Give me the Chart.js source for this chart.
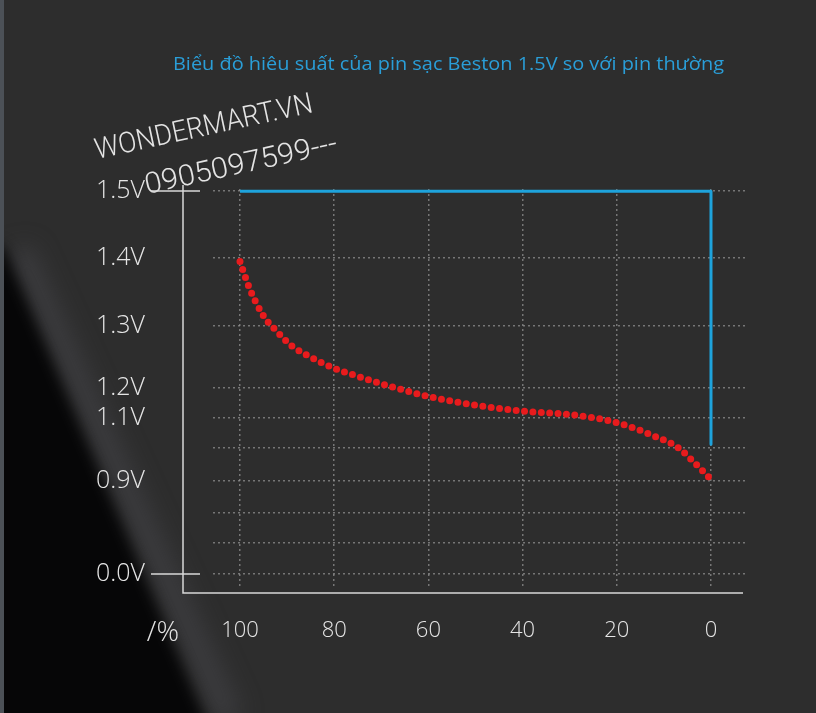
<!DOCTYPE html>
<html>
<head>
<meta charset="utf-8">
<script src="https://cdn.jsdelivr.net/npm/chart.js@4.4.1/dist/chart.umd.min.js"></script>
<style>
    html, body { margin: 0; padding: 0; background: #2d2d2d; }
    #chart { display: block; }
</style>
</head>
<body>
<canvas id="chart" width="816" height="713"></canvas>
<script>
// Normal battery discharge curve (% remaining -> volts)
const capacityPct = [100, 98, 95, 92, 89, 85, 80, 75, 70, 60, 50, 40, 30, 20, 12, 7, 4, 0];
const normalVolts = [1.395, 1.356, 1.315, 1.29, 1.268, 1.25, 1.232, 1.219, 1.207, 1.172, 1.143, 1.123, 1.112, 1.085, 1.04, 1.002, 0.963, 0.905];

// Beston 1.5V rechargeable: flat then drop at the end
const bestonPct = [100, 0, 0];
const bestonVolts = [1.5, 1.5, 1.013];

// Axis ticks
const xTicks = [100, 80, 60, 40, 20, 0];
const voltStops = [0, 0.3, 0.6, 0.9, 1.0, 1.1, 1.2, 1.3, 1.4, 1.5];
const yTickLabels = ['0.0V', '', '', '0.9V', '', '1.1V', '1.2V', '1.3V', '1.4V', '1.5V'];

const titleText = 'Biểu đồ hiêu suất của pin sạc Beston 1.5V so với pin thường';
const watermark1 = 'WONDERMART.VN';
const watermark2 = '0905097599---';

// The printed voltage axis is not linear: each stop sits at its own height
const axisStops = [0, 1, 1.97, 3, 4.06, 5.03, 6, 8, 10.19, 12.35];

function voltToAxis(v) {
    for (let i = 1; i < voltStops.length; i++) {
        if (v <= voltStops[i]) {
            const t = (v - voltStops[i - 1]) / (voltStops[i] - voltStops[i - 1]);
            return axisStops[i - 1] + t * (axisStops[i] - axisStops[i - 1]);
        }
    }
    return axisStops[axisStops.length - 1];
}

const gridColor = 'rgba(150, 150, 150, 0.7)';
const tickFont = "'Open Sans', 'Noto Sans', sans-serif";

// Draw text stretched to a given width
function fitText(ctx, text, x, y, width, angle) {
    const w = ctx.measureText(text).width;
    ctx.save();
    ctx.translate(x, y);
    ctx.rotate(angle);
    ctx.scale(width / w, 1);
    ctx.fillText(text, 0, 0);
    ctx.restore();
}

// Background: dark texture with a black wedge at lower left
const backgroundPlugin = {
    id: 'background',
    beforeDraw(chart) {
        const ctx = chart.ctx;
        ctx.save();
        ctx.fillStyle = '#2d2d2d';
        ctx.fillRect(0, 0, chart.width, chart.height);

        ctx.filter = 'blur(12px)';
        ctx.strokeStyle = 'rgba(80, 80, 86, 0.45)';
        ctx.lineWidth = 26;
        ctx.beginPath();
        ctx.moveTo(18, 250);
        ctx.lineTo(230, 720);
        ctx.stroke();

        ctx.filter = 'blur(7px)';
        ctx.fillStyle = '#060607';
        ctx.beginPath();
        ctx.moveTo(-20, 240);
        ctx.lineTo(4, 248);
        ctx.lineTo(210, 730);
        ctx.lineTo(-20, 730);
        ctx.closePath();
        ctx.fill();
        ctx.filter = 'none';

        ctx.fillStyle = '#4c5157';
        ctx.fillRect(0, 0, 4, chart.height);
        ctx.restore();
    }
};

// Title, watermark, axis frame and "/%" label
const decorPlugin = {
    id: 'decor',
    afterDraw(chart) {
        const ctx = chart.ctx;
        ctx.save();

        ctx.fillStyle = '#2a9ed8';
        ctx.font = "19px 'Open Sans', 'Noto Sans', sans-serif";
        ctx.textBaseline = 'middle';
        ctx.textAlign = 'left';
        fitText(ctx, titleText, 173, 65, 551, 0);

        ctx.fillStyle = '#e4e4e4';
        ctx.font = "300 29px Roboto, sans-serif";
        ctx.textBaseline = 'alphabetic';
        fitText(ctx, watermark1, 97, 159, 222, -0.213);
        fitText(ctx, watermark2, 147, 194, 196, -0.216);

        ctx.strokeStyle = '#d8d8d8';
        ctx.lineWidth = 1.5;
        ctx.beginPath();
        ctx.moveTo(183, 185);
        ctx.lineTo(183, 593);
        ctx.lineTo(743, 593);
        ctx.moveTo(151, 191);
        ctx.lineTo(200, 191);
        ctx.moveTo(151, 574);
        ctx.lineTo(200, 574);
        ctx.stroke();

        ctx.fillStyle = '#e6e6e6';
        ctx.font = "300 28px " + tickFont;
        ctx.textAlign = 'right';
        ctx.textBaseline = 'middle';
        ctx.fillText('/%', 179, 633);
        ctx.restore();
    }
};

const ctx = document.getElementById('chart').getContext('2d');

new Chart(ctx, {
    type: 'line',
    data: {
        datasets: [
            {
                label: 'Beston 1.5V',
                data: bestonPct.map((p, i) => ({ x: p, y: voltToAxis(bestonVolts[i]) })),
                borderColor: '#1ea3dc',
                borderWidth: 3,
                borderJoinStyle: 'round',
                pointRadius: 0,
                tension: 0,
                clip: false
            },
            {
                label: 'Pin thường',
                data: capacityPct.map((p, i) => ({ x: p, y: voltToAxis(normalVolts[i]) })),
                borderColor: '#e81b1d',
                borderWidth: 7,
                borderDash: [0, 8.4],
                borderCapStyle: 'round',
                pointRadius: 0,
                cubicInterpolationMode: 'monotone',
                clip: false
            }
        ]
    },
    options: {
        responsive: false,
        animation: false,
        layout: {
            padding: { top: 189, right: 71, bottom: 0, left: 0 }
        },
        plugins: {
            legend: { display: false },
            tooltip: { enabled: false }
        },
        scales: {
            x: {
                type: 'linear',
                reverse: true,
                min: -7.22,
                max: 105.73,
                afterBuildTicks: (scale) => { scale.ticks = xTicks.map(v => ({ value: v })); },
                afterFit: (scale) => { scale.height = 125; },
                grid: { color: gridColor, lineWidth: 1.5, drawTicks: false },
                border: { display: false, dash: [2, 3] },
                ticks: {
                    autoSkip: false,
                    maxRotation: 0,
                    padding: 30,
                    color: '#e6e6e6',
                    font: { family: tickFont, size: 22, weight: '300' }
                }
            },
            y: {
                type: 'linear',
                min: -0.45,
                max: 12.42,
                afterBuildTicks: (scale) => { scale.ticks = axisStops.map(v => ({ value: v })); },
                afterFit: (scale) => { scale.width = 213; },
                grid: { color: gridColor, lineWidth: 1.5, drawTicks: false },
                border: { display: false, dash: [2, 3] },
                ticks: {
                    autoSkip: false,
                    padding: 68,
                    color: '#e6e6e6',
                    font: { family: tickFont, size: 25, weight: '300' },
                    callback: (value, index) => yTickLabels[index]
                }
            }
        }
    },
    plugins: [backgroundPlugin, decorPlugin]
});
</script>
</body>
</html>
